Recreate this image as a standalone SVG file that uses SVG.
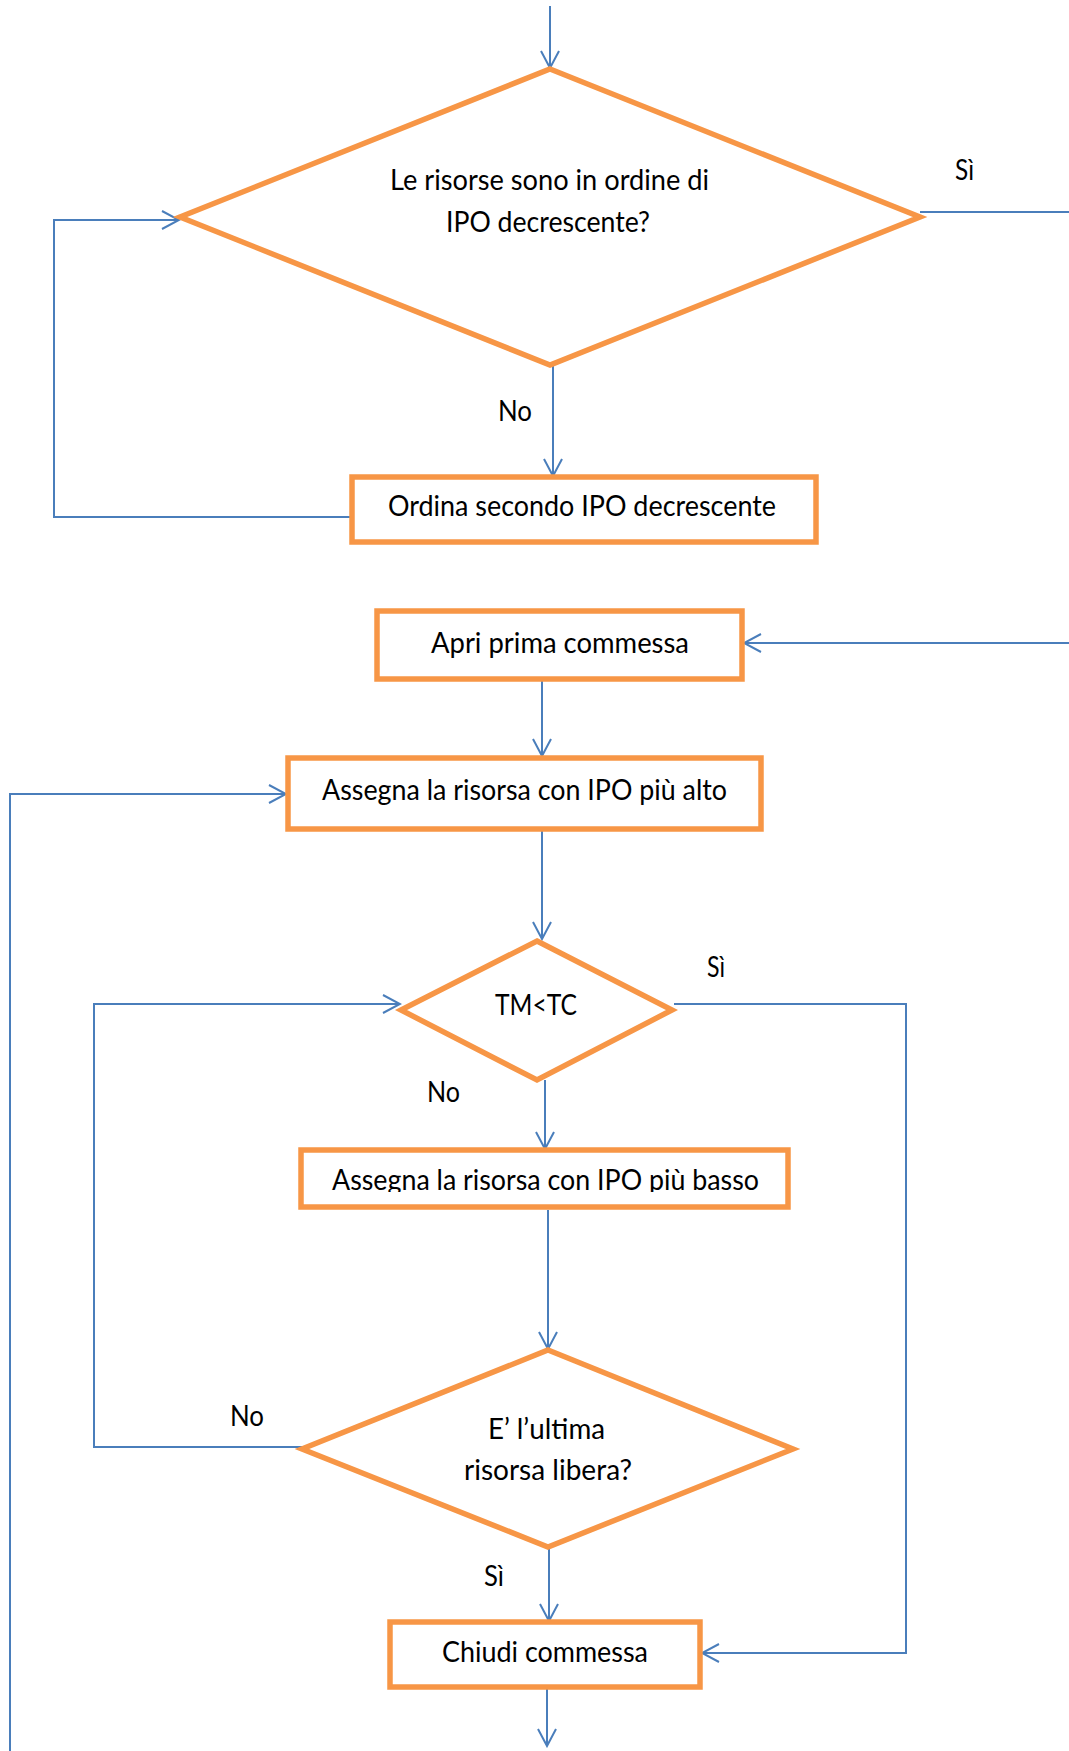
<svg xmlns="http://www.w3.org/2000/svg" width="1069" height="1751" viewBox="0 0 1069 1751">
  <defs>
    <style>
      .box { fill: #ffffff; stroke: #f79646; stroke-width: 5.5; stroke-linejoin: miter; }
      .dia { fill: #ffffff; stroke: #f79646; stroke-width: 5.5; stroke-linejoin: miter; }
      .wire { fill: none; stroke: #4a7ebb; stroke-width: 2; }
      .lbl { font-family: Lato, "Liberation Sans", sans-serif; font-size: 29px; fill: #000000; }
    </style>
    <marker id="open" viewBox="0 0 20 20" refX="18" refY="10" markerWidth="20" markerHeight="20" markerUnits="userSpaceOnUse" orient="auto">
      <path d="M1,1 L18,10 L1,19" fill="none" stroke="#4a7ebb" stroke-width="2"/>
    </marker>
    <clipPath id="clip-low">
      <rect x="301" y="1150" width="487" height="42"/>
    </clipPath>
  </defs>

  <!-- connectors -->
  <g id="connectors">
    <path class="wire" d="M550,6 L550,68" marker-end="url(#open)"/>
    <path class="wire" d="M920,212 L1069,212"/>
    <path class="wire" d="M553,366 L553,476" marker-end="url(#open)"/>
    <path class="wire" d="M352,517 L54,517 L54,220 L179,220" marker-end="url(#open)"/>
    <path class="wire" d="M1069,643 L744,643" marker-end="url(#open)"/>
    <path class="wire" d="M542,680 L542,756" marker-end="url(#open)"/>
    <path class="wire" d="M10,1751 L10,794 L286,794" marker-end="url(#open)"/>
    <path class="wire" d="M542,830 L542,939" marker-end="url(#open)"/>
    <path class="wire" d="M674,1004 L906,1004 L906,1653 L702,1653" marker-end="url(#open)"/>
    <path class="wire" d="M545,1080 L545,1149" marker-end="url(#open)"/>
    <path class="wire" d="M302,1447 L94,1447 L94,1004 L400,1004" marker-end="url(#open)"/>
    <path class="wire" d="M548,1210 L548,1349" marker-end="url(#open)"/>
    <path class="wire" d="M549,1548 L549,1621" marker-end="url(#open)"/>
    <path class="wire" d="M547,1688 L547,1746" marker-end="url(#open)"/>
  </g>

  <!-- decision: ordering check -->
  <g id="check-order">
    <polygon class="dia" points="550,69 920,217 550,365 180,217"/>
    <text class="lbl" x="390" y="190" textLength="319" lengthAdjust="spacingAndGlyphs">Le risorse sono in ordine di</text>
    <text class="lbl" x="446" y="232" textLength="204" lengthAdjust="spacingAndGlyphs">IPO decrescente?</text>
  </g>
  <text class="lbl" x="955" y="180" textLength="19" lengthAdjust="spacingAndGlyphs">Sì</text>
  <text class="lbl" x="498" y="421" textLength="34" lengthAdjust="spacingAndGlyphs">No</text>

  <g id="sort">
    <rect class="box" x="352" y="477" width="464" height="65"/>
    <text class="lbl" x="388" y="516" textLength="388" lengthAdjust="spacingAndGlyphs">Ordina secondo IPO decrescente</text>
  </g>

  <g id="open-order">
    <rect class="box" x="377" y="611" width="365" height="68"/>
    <text class="lbl" x="431" y="653" textLength="258" lengthAdjust="spacingAndGlyphs">Apri prima commessa</text>
  </g>

  <g id="assign-high">
    <rect class="box" x="288" y="758" width="473" height="71"/>
    <text class="lbl" x="322" y="800" textLength="405" lengthAdjust="spacingAndGlyphs">Assegna la risorsa con IPO più alto</text>
  </g>

  <g id="check-time">
    <polygon class="dia" points="537,941 672,1010 537,1080 401,1010"/>
    <text class="lbl" x="495" y="1015" textLength="82" lengthAdjust="spacingAndGlyphs">TM&lt;TC</text>
  </g>
  <text class="lbl" x="707" y="977" textLength="18" lengthAdjust="spacingAndGlyphs">Sì</text>
  <text class="lbl" x="427" y="1102" textLength="33" lengthAdjust="spacingAndGlyphs">No</text>

  <g id="assign-low">
    <rect class="box" x="301" y="1150" width="487" height="57"/>
    <text class="lbl" x="332" y="1190" textLength="427" lengthAdjust="spacingAndGlyphs" clip-path="url(#clip-low)">Assegna la risorsa con IPO più basso</text>
  </g>

  <g id="check-last">
    <polygon class="dia" points="548,1350 793,1449 548,1547 302,1449"/>
    <text class="lbl" x="488" y="1439" textLength="117" lengthAdjust="spacingAndGlyphs">E’ l’ultima</text>
    <text class="lbl" x="464" y="1480" textLength="168" lengthAdjust="spacingAndGlyphs">risorsa libera?</text>
  </g>
  <text class="lbl" x="230" y="1426" textLength="34" lengthAdjust="spacingAndGlyphs">No</text>
  <text class="lbl" x="484" y="1586" textLength="20" lengthAdjust="spacingAndGlyphs">Sì</text>

  <g id="close-order">
    <rect class="box" x="390" y="1622" width="310" height="65"/>
    <text class="lbl" x="442" y="1662" textLength="206" lengthAdjust="spacingAndGlyphs">Chiudi commessa</text>
  </g>
</svg>
